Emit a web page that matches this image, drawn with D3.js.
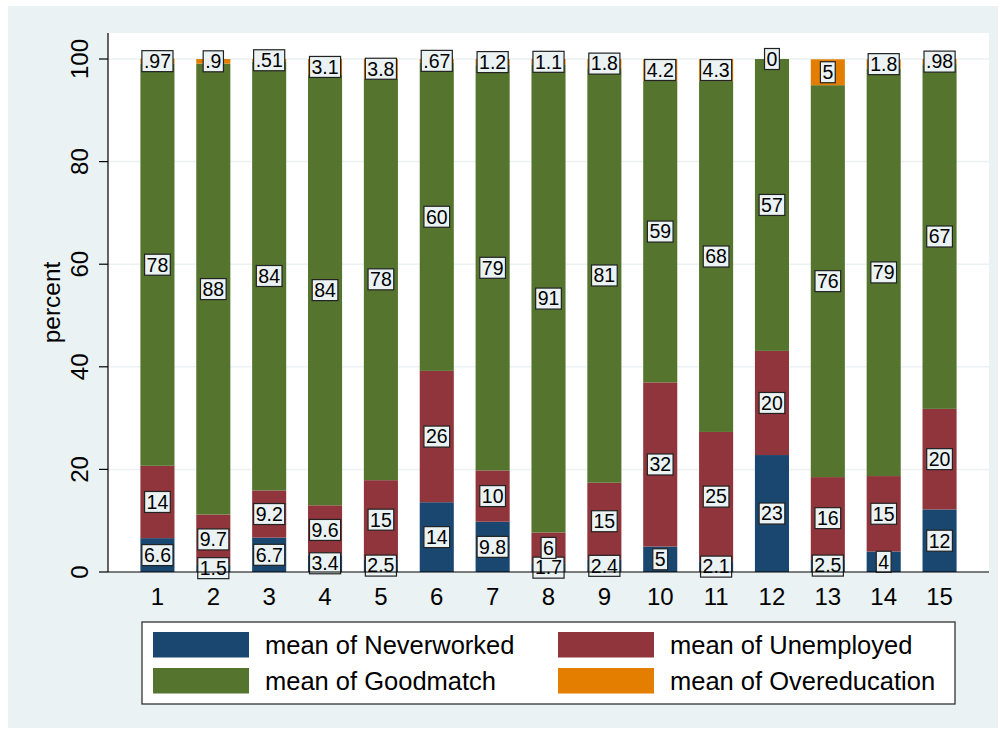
<!DOCTYPE html>
<html>
<head>
<meta charset="utf-8">
<script src="https://cdn.jsdelivr.net/npm/d3@7"></script>
<style>
  body { margin: 0; background: #ffffff; }
  svg text { font-family: "Liberation Sans", Arial, sans-serif; }
</style>
</head>
<body>
<div id="chart"></div>
<script>
var groups = ["1", "2", "3", "4", "5", "6", "7", "8", "9", "10", "11", "12", "13", "14", "15"];
var neverworked = [6.6, 1.5, 6.7, 3.4, 2.5, 13.6, 9.8, 1.7, 2.4, 4.96, 2.1, 22.8, 2.5, 4.0, 12.2];
var unemployed = [14.1, 9.7, 9.2, 9.6, 15.4, 25.6, 10, 6.0, 15, 32, 25.2, 20.3, 16.0, 14.7, 19.6];
var goodmatch = [78.4, 87.9, 83.6, 83.9, 78.3, 60.1, 79, 91.2, 80.8, 58.8, 68.4, 56.9, 76.4, 79.4, 67.2];
var overeducation = [0.97, 0.9, 0.51, 3.1, 3.8, 0.67, 1.2, 1.1, 1.8, 4.2, 4.3, 0, 5.04, 1.8, 0.98];
var yTicks = [0, 20, 40, 60, 80, 100];
var seriesNames = ["mean of Neverworked", "mean of Unemployed", "mean of Goodmatch", "mean of Overeducation"];
var colors = ["#1a476f", "#90353b", "#55752f", "#e37e00"];

var W = 1003, H = 733;
var plot = { left: 108, right: 989, top: 33, bottom: 572 };

var svg = d3.select("#chart").append("svg")
    .attr("width", W)
    .attr("height", H);

// graph region
svg.append("rect")
    .attr("x", 8).attr("y", 6)
    .attr("width", 990).attr("height", 722)
    .attr("fill", "#eaf2f3");

// plot region
svg.append("rect")
    .attr("x", plot.left).attr("y", plot.top)
    .attr("width", plot.right - plot.left).attr("height", plot.bottom - plot.top)
    .attr("fill", "#ffffff");

var x = d3.scaleBand()
    .domain(groups)
    .range([plot.left, plot.right])
    .paddingInner(0.39)
    .paddingOuter(0.58);

var y = d3.scaleLinear()
    .domain([0, 100])
    .range([572, 59]);

// gridlines
svg.append("g")
    .selectAll("line")
    .data(yTicks.slice(1))
    .enter().append("line")
    .attr("x1", plot.left).attr("x2", plot.right)
    .attr("y1", function(d) { return y(d); })
    .attr("y2", function(d) { return y(d); })
    .attr("stroke", "#eaf2f3")
    .attr("stroke-width", 1.5);

var rows = groups.map(function(g, i) {
    return { group: g, s0: neverworked[i], s1: unemployed[i], s2: goodmatch[i], s3: overeducation[i] };
});
var keys = ["s0", "s1", "s2", "s3"];
var stackedData = d3.stack().keys(keys)(rows);

svg.append("g")
    .selectAll("g")
    .data(stackedData)
    .enter().append("g")
    .attr("fill", function(d, i) { return colors[i]; })
    .selectAll("rect")
    .data(function(d) { return d; })
    .enter().append("rect")
    .attr("x", function(d) { return x(d.data.group); })
    .attr("y", function(d) { return y(d[1]); })
    .attr("height", function(d) { return y(d[0]) - y(d[1]); })
    .attr("width", x.bandwidth());

// bar labels
var fmt = d3.format(".2");
function labelText(v) {
    return fmt(v).replace(/^0\./, ".");
}

var labels = [];
stackedData.forEach(function(layer) {
    layer.forEach(function(d) {
        labels.push({ group: d.data.group, mid: (d[0] + d[1]) / 2, text: labelText(d[1] - d[0]) });
    });
});

var lab = svg.append("g")
    .selectAll("g")
    .data(labels)
    .enter().append("g")
    .attr("transform", function(d) {
        return "translate(" + (x(d.group) + x.bandwidth() / 2) + "," + y(d.mid) + ")";
    });

lab.append("text")
    .attr("text-anchor", "middle")
    .attr("dy", "0.35em")
    .attr("font-size", 19.5)
    .attr("fill", "#000")
    .text(function(d) { return d.text; })
    .each(function(d) { d.w = this.getComputedTextLength(); });

lab.insert("rect", "text")
    .attr("x", function(d) { return -d.w / 2 - 2; })
    .attr("y", -10.5)
    .attr("width", function(d) { return d.w + 4; })
    .attr("height", 21)
    .attr("fill", "#eaf2f3")
    .attr("stroke", "#222")
    .attr("stroke-width", 1.2);

// axes
svg.append("line")
    .attr("x1", plot.left).attr("x2", plot.left)
    .attr("y1", plot.top).attr("y2", plot.bottom)
    .attr("stroke", "#000").attr("stroke-width", 1.2);
svg.append("line")
    .attr("x1", plot.left).attr("x2", plot.right)
    .attr("y1", plot.bottom).attr("y2", plot.bottom)
    .attr("stroke", "#000").attr("stroke-width", 1.2);

var yAxis = svg.append("g");
yAxis.selectAll("line")
    .data(yTicks)
    .enter().append("line")
    .attr("x1", 99).attr("x2", plot.left)
    .attr("y1", function(d) { return y(d); })
    .attr("y2", function(d) { return y(d); })
    .attr("stroke", "#000").attr("stroke-width", 1.2);
yAxis.selectAll("text")
    .data(yTicks)
    .enter().append("text")
    .attr("transform", function(d) { return "translate(88," + y(d) + ") rotate(-90)"; })
    .attr("text-anchor", "middle")
    .attr("font-size", 24)
    .attr("fill", "#000")
    .text(function(d) { return d; });

svg.append("text")
    .attr("transform", "translate(60," + ((plot.top + plot.bottom) / 2) + ") rotate(-90)")
    .attr("text-anchor", "middle")
    .attr("font-size", 24.5)
    .attr("fill", "#000")
    .text("percent");

svg.append("g")
    .selectAll("text")
    .data(groups)
    .enter().append("text")
    .attr("x", function(d) { return x(d) + x.bandwidth() / 2; })
    .attr("y", 605)
    .attr("text-anchor", "middle")
    .attr("font-size", 24)
    .attr("fill", "#000")
    .text(function(d) { return d; });

// legend
var legend = svg.append("g");
legend.append("rect")
    .attr("x", 142).attr("y", 622)
    .attr("width", 813).attr("height", 82)
    .attr("fill", "#ffffff")
    .attr("stroke", "#333")
    .attr("stroke-width", 1.3);

var legX = [153, 558];
var legY = [632, 668];
var item = legend.selectAll("g")
    .data(seriesNames)
    .enter().append("g")
    .attr("transform", function(d, i) {
        return "translate(" + legX[i % 2] + "," + legY[Math.floor(i / 2)] + ")";
    });
item.append("rect")
    .attr("width", 96).attr("height", 25.5)
    .attr("fill", function(d, i) { return colors[i]; });
item.append("text")
    .attr("x", 112)
    .attr("y", 21.5)
    .attr("font-size", 25.5)
    .attr("fill", "#000")
    .text(function(d) { return d; });
</script>
</body>
</html>
